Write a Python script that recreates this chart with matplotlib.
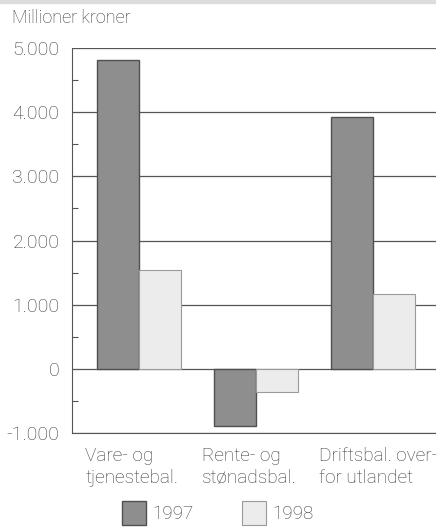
import matplotlib
matplotlib.use("Agg")
import matplotlib.pyplot as plt
import matplotlib.transforms as mtrans
import numpy as np
from matplotlib.patches import Rectangle

categories = ["Vare- og\ntjenestebal.", "Rente- og\nstønadsbal.", "Driftsbal. over-\nfor utlandet"]
years = ["1997", "1998"]
v1997 = [4810, -890, 3920]
v1998 = [1540, -360, 1170]
yticks = [-1000, 0, 1000, 2000, 3000, 4000, 5000]
ytick_labels = ["-1.000", "0", "1.000", "2.000", "3.000", "4.000", "5.000"]

plt.rcParams['font.family'] = ['Roboto', 'Liberation Sans', 'DejaVu Sans']
plt.rcParams['font.weight'] = 'light'
TXT = "#3a3a3a"

fig = plt.figure(figsize=(4.36, 5.29), dpi=100)
ax = fig.add_axes([72/436, 1-433/529, 1-72/436, (433-48)/529])

x = np.arange(len(categories))
w = 0.36
ax.bar(x - w/2, v1997, w, color="#8e8e8e", edgecolor="#505050", linewidth=1.0, label=years[0], zorder=3)
ax.bar(x + w/2, v1998, w, color="#ececec", edgecolor="#9a9a9a", linewidth=0.8, label=years[1], zorder=3)

ax.set_xlim(-0.573, 2.54)
ax.set_ylim(-1000, 5000)
ax.set_yticks(yticks)
ax.set_yticklabels(ytick_labels, fontsize=14, color=TXT, fontweight='light')
ax.set_yticks([-500, 500, 1500, 2500, 3500, 4500], minor=True)
ax.tick_params(axis='y', which='major', length=0, pad=9)
ax.tick_params(axis='y', which='minor', direction='in', length=4, width=0.8, color="#555555")
ax.set_xticks([])
for s in ['top', 'right']:
    ax.spines[s].set_visible(False)
ax.spines['left'].set_color("#555555")
ax.spines['bottom'].set_color("#555555")
ax.grid(axis='y', which='major', color="#555555", linewidth=0.9, zorder=0)
ax.set_axisbelow(True)

off = ax.transData + mtrans.ScaledTranslation(0, -14/100, fig.dpi_scale_trans)
for i, c in enumerate(categories):
    ax.text(i - 0.46, -1000, c, transform=off, ha='left', va='top',
            fontsize=13.7, color=TXT, linespacing=1.3, fontweight='light')

fig.text(12/436, 1-18/529, "Millioner kroner", ha='left', va='center', fontsize=13,
         color=TXT, fontweight='light')

leg = fig.legend(loc='lower center', bbox_to_anchor=(0.5, -0.025), ncol=2, frameon=False,
           prop={'size': 13.5, 'weight': 'light'}, handlelength=1.25, handleheight=1.6,
           columnspacing=2.6, handletextpad=0.35, labelcolor=TXT)

fig.patches.append(Rectangle((0, 1-3/529), 1, 3/529, transform=fig.transFigure, color="#dcdcdc"))

fig.savefig("out.png", dpi=100)
